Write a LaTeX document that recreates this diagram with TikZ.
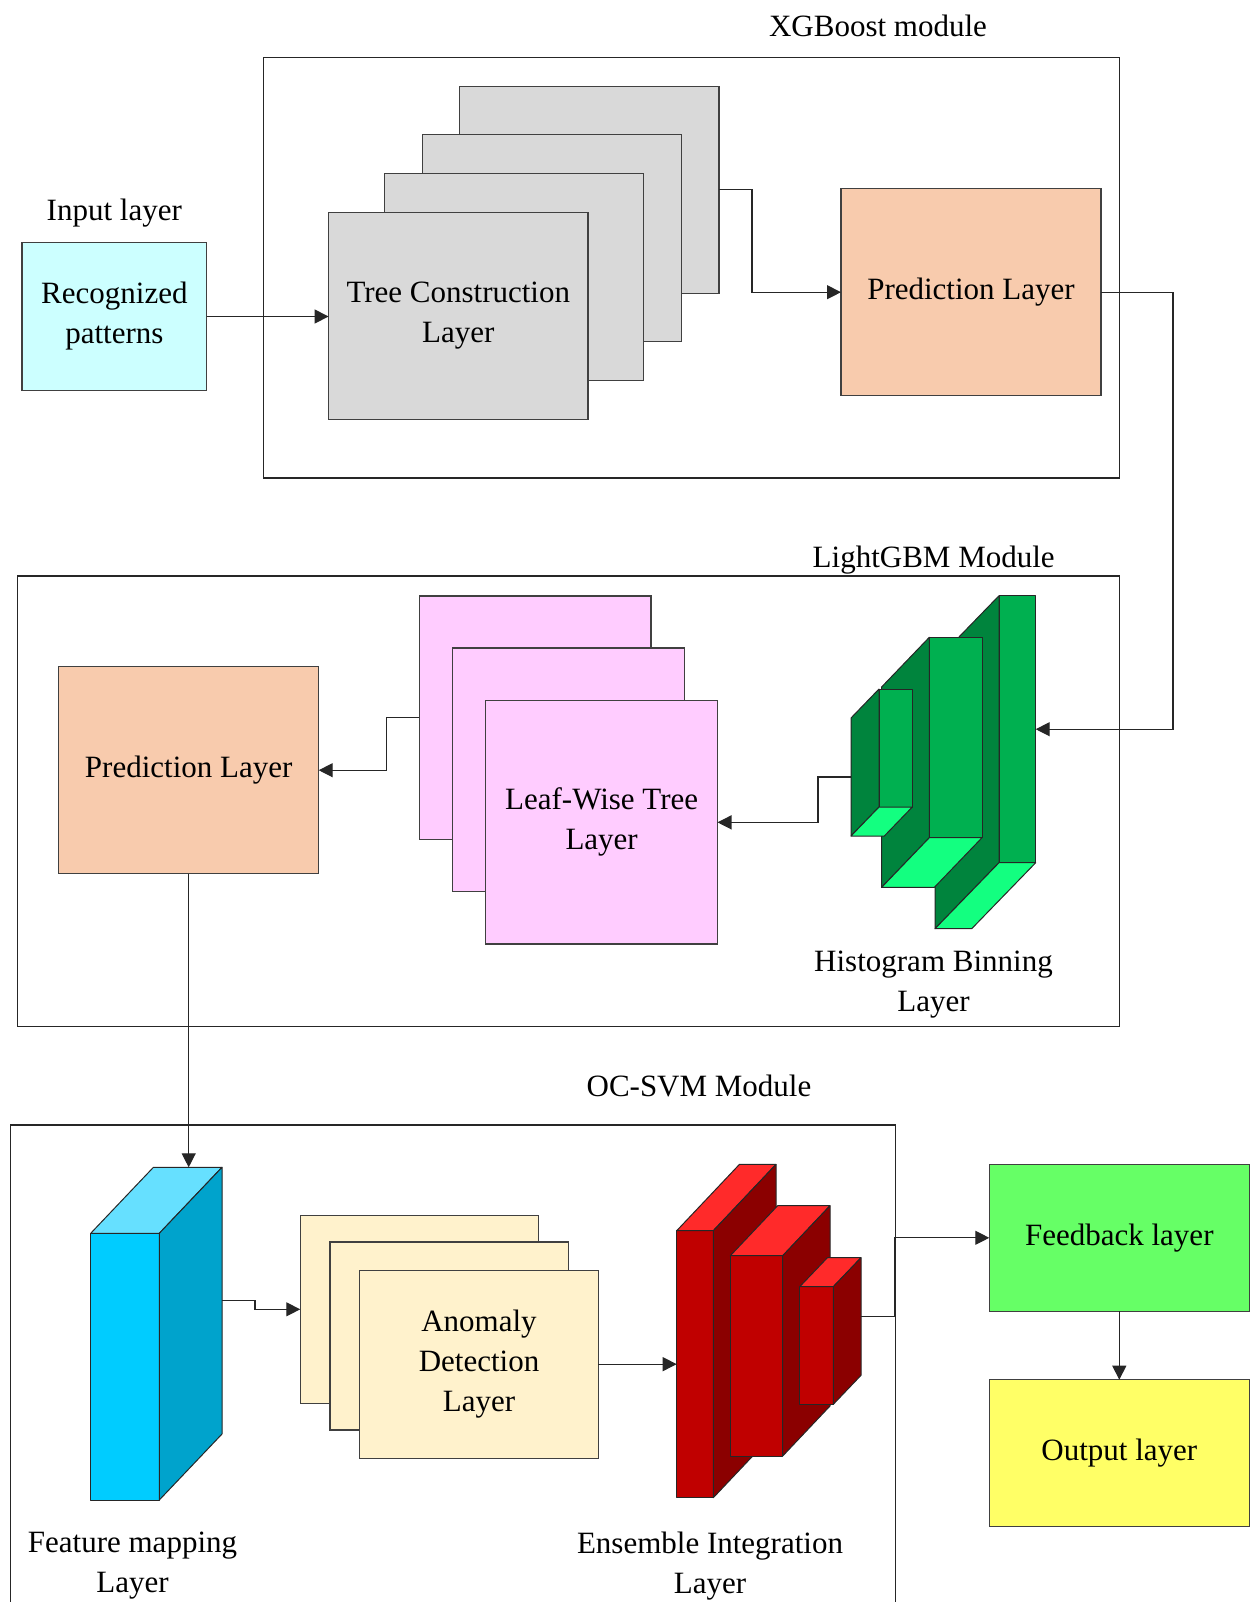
\documentclass[tikz,border=0pt]{standalone}
\usepackage{fontspec}
\setmainfont{Liberation Serif}
\usetikzlibrary{arrows.meta,calc}

\definecolor{inputcol}{HTML}{CCFFFF}
\definecolor{treecol}{HTML}{D9D9D9}
\definecolor{predcol}{HTML}{F8CBAD}
\definecolor{leafcol}{HTML}{FFCCFF}
\definecolor{anomcol}{HTML}{FFF2CC}
\definecolor{feedcol}{HTML}{66FF66}
\definecolor{outcol}{HTML}{FFFF66}
\definecolor{hfront}{HTML}{00B050}
\definecolor{hside}{HTML}{00843D}
\definecolor{hbottom}{HTML}{13FF80}
\definecolor{cfront}{HTML}{00CCFF}
\definecolor{ctop}{HTML}{66E0FF}
\definecolor{cside}{HTML}{00A3CC}
\definecolor{rfront}{HTML}{C00000}
\definecolor{rtop}{HTML}{FF2A2A}
\definecolor{rside}{HTML}{8B0000}

% green histogram bar: front face node, left side and bottom faces (depth to the lower left)
% #1 name, #2 cx, #3 cy, #4 width, #5 height, #6 depth vector
\newcommand\histobar[6]{%
  \node[face, fill=hfront, minimum width=#4, minimum height=#5] (#1) at (#2,#3) {};
  \filldraw[face, fill=hside] (#1.north west) -- ++(#6) -- ($(#1.south west)+(#6)$) -- (#1.south west) -- cycle;
  \filldraw[face, fill=hbottom] (#1.south west) -- (#1.south east) -- ++(#6) -- ($(#1.south west)+(#6)$) -- cycle;
}
% 3-D block with depth to the upper right: front face node, top and right faces
% #1 name, #2 cx, #3 cy, #4 width, #5 height, #6 depth vector, #7 front, #8 top, #9 side
\newcommand\blockbar[9]{%
  \node[face, fill=#7, minimum width=#4, minimum height=#5] (#1) at (#2,#3) {};
  \filldraw[face, fill=#8] (#1.north west) -- (#1.north east) -- ++(#6) -- ($(#1.north west)+(#6)$) -- cycle;
  \filldraw[face, fill=#9] (#1.north east) -- ++(#6) -- ($(#1.south east)+(#6)$) -- (#1.south east) -- cycle;
}

\begin{document}
\begin{tikzpicture}[x=0.5pt,y=-0.5pt,
  every node/.style={font=\fontsize{15.5}{20}\selectfont, align=center, inner sep=0pt, outer sep=0pt},
  box/.style={draw=black!75, line width=0.6pt},
  frame/.style={draw=black!85, line width=0.7pt},
  face/.style={draw=black!85, line width=0.5pt, line join=round},
  link/.style={draw=black!85, line width=0.6pt},
  arr/.style={link, -{Triangle[length=7pt,width=7pt]}},
  lbl/.style={anchor=base}
]
\useasboundingbox (0,0) rectangle (1250,1602);

% ---------------- XGBoost module ----------------
\draw[frame] (263.3,57.5) rectangle (1119.5,478);
\node[lbl] (xgl) at (878,36.8) {XGBoost module};

\node[lbl] (inl) at (114.3,220) {Input layer};
\node[box, fill=inputcol, minimum width=92.35pt, minimum height=73.8pt] (input) at (114.35,316.5) {Recognized\\patterns};

\node[box, fill=treecol, minimum width=129.7pt, minimum height=103.5pt] (tb) at (589.3,189.65) {};
\node[box, fill=treecol, minimum width=129.7pt, minimum height=103.5pt] (t2) at (551.85,237.65) {};
\node[box, fill=treecol, minimum width=129.7pt, minimum height=103.5pt] (t3) at (513.85,276.8) {};
\node[box, fill=treecol, minimum width=129.7pt, minimum height=103.5pt] (tf) at (458.3,315.8) {Tree Construction\\Layer};

\node[box, fill=predcol, minimum width=130pt, minimum height=103.5pt] (xgp) at (971,292.2) {Prediction Layer};

% ---------------- LightGBM module ----------------
\draw[frame] (17.3,576) rectangle (1119.5,1026.2);
\node[lbl] (lgl) at (933.7,567) {LightGBM Module};

\node[box, fill=predcol, minimum width=130pt, minimum height=103.5pt] (lgp) at (188.7,770.2) {Prediction Layer};

\node[box, fill=leafcol, minimum width=115.85pt, minimum height=121.65pt] (lb) at (535.15,717.65) {};
\node[box, fill=leafcol, minimum width=115.85pt, minimum height=121.65pt] (lm) at (568.3,769.65) {};
\node[box, fill=leafcol, minimum width=115.85pt, minimum height=121.65pt] (lf) at (601.65,822.35) {Leaf-Wise Tree\\Layer};

\histobar{hb3}{1017.35}{729.2}{18.35pt}{133.5pt}{-64,66}
\histobar{hb2}{955.65}{737.5}{26.35pt}{100.2pt}{-47.7,49.7}
\histobar{hb1}{895.65}{748}{16.65pt}{59pt}{-28,29}
\coordinate (hbout) at ($(hb1.west)+(-28,29)$);
\node (hbl) at (933.5,985) {Histogram Binning\\Layer};

% ---------------- OC-SVM module ----------------
\draw[frame] (10.2,1620) -- (10.2,1125) -- (895.7,1125) -- (895.7,1620);
\node[lbl] (ocl) at (699,1096) {OC-SVM Module};

\blockbar{fm}{125}{1366.65}{34.3pt}{133.35pt}{62.7,-66}{cfront}{ctop}{cside}
\coordinate (fmtop) at ($(fm.north)+(62.7,-66)$);
\coordinate (fmout) at ($(fm.east)+(62.7,-66)$);
\node (fml) at (132.5,1566) {Feature mapping\\Layer};

\node[box, fill=anomcol, minimum width=119.25pt, minimum height=94pt] (ab) at (419.5,1309.3) {};
\node[box, fill=anomcol, minimum width=119.25pt, minimum height=94pt] (am) at (449.15,1336) {};
\node[box, fill=anomcol, minimum width=119.25pt, minimum height=94pt] (af) at (479,1364.15) {Anomaly\\Detection\\Layer};

\blockbar{ea}{695}{1364.2}{18.3pt}{133.5pt}{62.7,-66.3}{rfront}{rtop}{rside}
\blockbar{eb}{756.5}{1355.85}{26.2pt}{100.15pt}{47.3,-50}{rfront}{rtop}{rside}
\blockbar{ec}{816.5}{1345.5}{16.8pt}{58.8pt}{27.7,-29}{rfront}{rtop}{rside}
\coordinate (ecout) at ($(ec.east)+(27.7,-29)$);
\node (eil) at (710,1566) {Ensemble Integration\\Layer};

% ---------------- output side ----------------
\node[box, fill=feedcol, minimum width=130pt, minimum height=73.5pt] (fb) at (1119.3,1237.8) {Feedback layer};
\node[box, fill=outcol, minimum width=130pt, minimum height=73.5pt] (out) at (1119.3,1453.2) {Output layer};

% ---------------- connectors ----------------
\draw[arr] (input.east) -- (input.east -| tf.west);
\draw[arr] (tb.east) -- ++(33,0) |- (xgp.west);
\draw[arr] (xgp.east) -- ++(72,0) |- (hb3.east);
\draw[arr] (hbout) -- ++(-33,0) |- (lf.east);
\draw[arr] (lb.west) -- ++(-32.6,0) |- (lgp.east);
\draw[arr] (lgp.south) -- (lgp.south |- fmtop);
\draw[arr] (fmout) -- ++(33,0) |- (ab.west);
\draw[arr] (af.east) -- (af.east -| ea.west);
\draw[arr] (ecout) -- ++(33.3,0) |- (fb.west);
\draw[arr] (fb.south) -- (out.north);
\end{tikzpicture}
\end{document}
